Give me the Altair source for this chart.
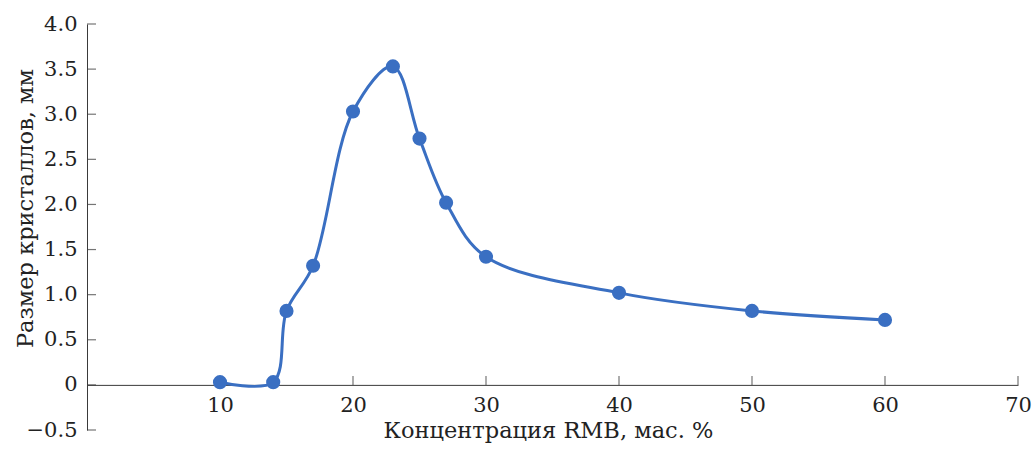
import altair as alt
import pandas as pd

conc = [10, 14, 15, 17, 20, 23, 25, 27, 30, 40, 50, 60]
size_mm = [0.03, 0.03, 0.82, 1.32, 3.03, 3.53, 2.73, 2.02, 1.42, 1.02, 0.82, 0.72]
x_ticks = [10, 20, 30, 40, 50, 60, 70]
y_ticks = [-0.5, 0, 0.5, 1.0, 1.5, 2.0, 2.5, 3.0, 3.5, 4.0]

df = pd.DataFrame({"c": conc, "s": size_mm})
xt = pd.DataFrame({"t": x_ticks})
yt = pd.DataFrame({"t": y_ticks})

FONT = "DejaVu Serif"
BLUE = "#3a6fc2"
AX = "#3a3a3a"
TXT = "#222222"
W, H = 931, 406
zero_off = H * 0.5 / 4.5

xs = alt.Scale(domain=[0, 70], nice=False, zero=False)
ys = alt.Scale(domain=[-0.5, 4.0], nice=False, zero=False)

line = alt.Chart(df).mark_line(
    interpolate="catmull-rom", color=BLUE, strokeWidth=3
).encode(
    x=alt.X("c:Q", scale=xs, axis=alt.Axis(
        values=x_ticks, offset=-zero_off, tickSize=0, domainColor=AX,
        labelPadding=10, labelFontSize=21, labelColor=TXT, labelFont=FONT,
        title="Концентрация RMB, мас. %", titleFontSize=22.5, titleFont=FONT,
        titleFontWeight="normal", titleColor=TXT,
        titleX=461, titleY=53, titleBaseline="alphabetic",
        grid=False, labelFlush=False)),
    y=alt.Y("s:Q", scale=ys, axis=alt.Axis(
        values=y_ticks, tickSize=0, domainColor=AX, labelFont=FONT,
        labelExpr="datum.value == 0 ? '0' : replace(format(datum.value, '.1f'), '-', '\u2013')",
        labelPadding=10, labelFontSize=21, labelColor=TXT,
        title="Размер кристаллов, мм", titleFontSize=22.5, titleFont=FONT,
        titleFontWeight="normal", titleColor=TXT,
        titleX=-55, titleY=184, titleAngle=270, titleAlign="center",
        titleBaseline="alphabetic",
        grid=False)),
)

pts = alt.Chart(df).mark_point(
    filled=True, size=200, color=BLUE, opacity=1
).encode(x=alt.X("c:Q", scale=xs), y=alt.Y("s:Q", scale=ys))

xtick = alt.Chart(xt).mark_tick(
    orient="vertical", size=9, thickness=1.2, color=AX, yOffset=-4.5
).encode(x=alt.X("t:Q", scale=xs), y=alt.Y(datum=0, scale=ys))

ytick = alt.Chart(yt).mark_tick(
    orient="horizontal", size=9, thickness=1.2, color=AX, xOffset=4.5
).encode(y=alt.Y("t:Q", scale=ys), x=alt.X(datum=0, scale=xs))

chart = alt.layer(xtick, ytick, line, pts).properties(
    width=W, height=H,
    background="white",
    autosize=alt.AutoSizeParams(type="none"),
    padding={"left": 87, "top": 24, "right": 17, "bottom": 21},
).configure_view(stroke=None)

chart.save("out.html", embed_options={"renderer": "svg", "actions": False})
